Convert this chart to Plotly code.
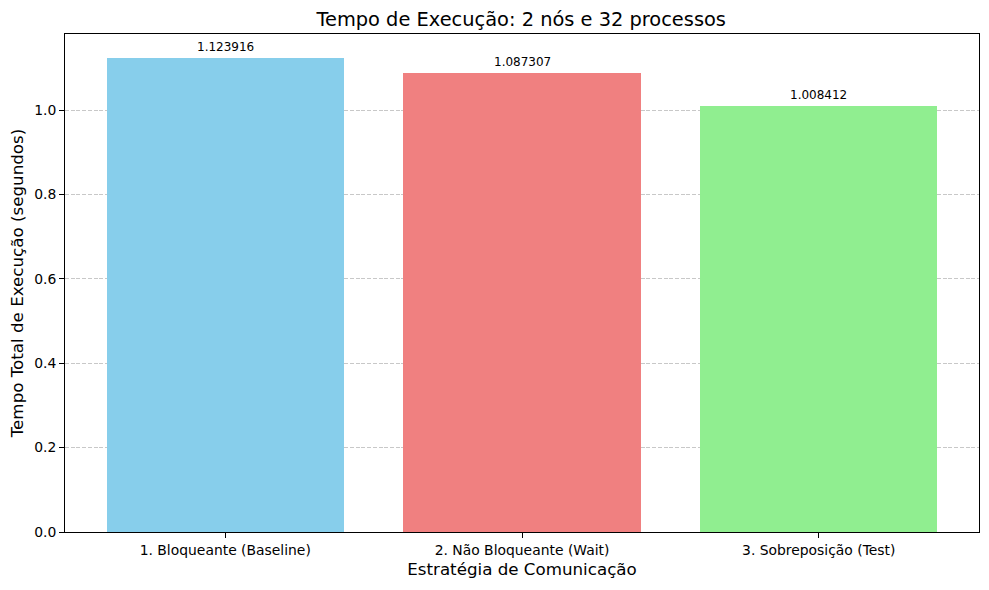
import plotly.graph_objects as go

categories = ["1. Bloqueante (Baseline)", "2. Não Bloqueante (Wait)", "3. Sobreposição (Test)"]
values = [1.123916, 1.087307, 1.008412]
colors = ["#87CEEB", "#F08080", "#90EE90"]
y_ticks = [0.0, 0.2, 0.4, 0.6, 0.8, 1.0]

x_pos = list(range(len(categories)))

fig = go.Figure()
fig.add_trace(go.Bar(
    x=x_pos, y=values, width=0.8,
    marker=dict(color=colors, line=dict(width=0)),
    hoverinfo="skip",
))

for xi, v in zip(x_pos, values):
    fig.add_annotation(
        x=xi, y=v, text=f"{v:.6f}", showarrow=False,
        yanchor="bottom", yshift=2,
        font=dict(family="DejaVu Sans", size=12, color="black"),
    )

fig.update_layout(
    width=989, height=590,
    margin=dict(l=65, r=10, t=34, b=58),
    plot_bgcolor="white", paper_bgcolor="white",
    font=dict(family="DejaVu Sans", size=13.9, color="black"),
    showlegend=False,
    title=dict(text="Tempo de Execução: 2 nós e 32 processos",
               x=0.527, xanchor="center", y=0.968, yanchor="middle",
               font=dict(size=19.4, color="black")),
    bargap=0,
)

fig.update_xaxes(
    range=[-0.54, 2.54],
    tickmode="array", tickvals=x_pos, ticktext=categories,
    ticks="outside", ticklen=5, tickcolor="black", tickwidth=1,
    showline=True, linecolor="black", linewidth=1, mirror=True,
    showgrid=False, zeroline=False,
    tickfont=dict(size=13.9),
    title=dict(text="Estratégia de Comunicação", font=dict(size=16.7), standoff=6),
)
fig.update_yaxes(
    range=[0, 1.1801],
    tickmode="array", tickvals=y_ticks, ticktext=[f"{t:.1f}" for t in y_ticks],
    ticks="outside", ticklen=5, tickcolor="black", tickwidth=1,
    showline=True, linecolor="black", linewidth=1, mirror=True,
    showgrid=True, gridcolor="rgba(176,176,176,0.7)", griddash="4px,1.7px", gridwidth=1,
    zeroline=False,
    tickfont=dict(size=13.9),
    title=dict(text="Tempo Total de Execução (segundos)", font=dict(size=16.7), standoff=6),
)

fig.write_html("out.html")
